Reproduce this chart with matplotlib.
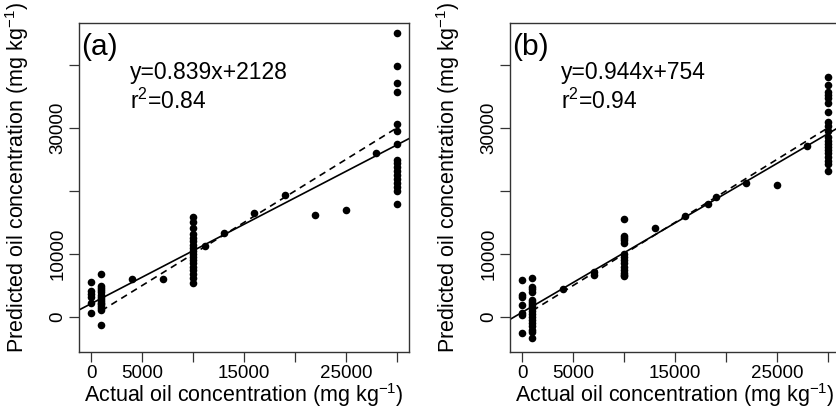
import numpy as np
import matplotlib
matplotlib.use("Agg")
import matplotlib.pyplot as plt

plt.rcParams['font.family'] = ['Liberation Sans', 'DejaVu Sans']
plt.rcParams['mathtext.fontset'] = 'custom'
plt.rcParams['mathtext.rm'] = 'Liberation Sans'
plt.rcParams['mathtext.it'] = 'Liberation Sans'

# ---- panel (a) data: actual vs predicted (mg/kg) ----
a_actual = ([0] * 6 + [1000] * 15 + [4000, 7000] + [10000] * 18
            + [11200, 13000, 16000, 19000, 22000, 25000, 28000] + [30000] * 17)
a_pred = ([5600, 4200, 3600, 3100, 2200, 600]
          + [6900, 5000, 4600, 4300, 3900, 3500, 3200, 2900, 2600, 2300, 2000, 1700, 1400, 1100, -1300]
          + [6100, 6100]
          + [15900, 15000, 14200, 13200, 12500, 12000, 11500, 11000, 10500, 10000,
             9500, 9000, 8500, 8000, 7400, 6800, 6200, 5400]
          + [11200, 13400, 16500, 19400, 16200, 17000, 26000]
          + [45000, 39900, 37200, 35700, 30700, 29500, 27500, 24900, 24400, 23800,
             23200, 22500, 21900, 21300, 20600, 20000, 18000])

# ---- panel (b) data ----
b_actual = ([0] * 7 + [1000] * 18 + [4000, 7000, 7000] + [10000] * 14
            + [13000, 16000, 18200, 19000, 22000, 25000, 28000] + [30000] * 20)
b_pred = ([5900, 3500, 3200, 1900, 600, 300, -2600]
          + [6200, 4800, 4400, 4000, 2700, 2400, 2100, 1800, 1400, 900, 500, 0,
             -500, -1000, -1500, -2000, -2400, -3400]
          + [4400, 6700, 7100]
          + [15500, 12900, 12500, 12200, 11700, 10000, 9600, 9100, 8500, 8000,
             7500, 7000, 6700, 6500]
          + [14200, 16000, 17900, 19100, 21200, 21000, 27200]
          + [38100, 36800, 35700, 35200, 34800, 33900, 32500, 31000, 30300, 29500,
             28600, 28000, 27400, 27000, 26500, 26000, 25400, 24800, 24200, 23200])

panels = [
    ("(a)", a_actual, a_pred, 0.839, 2128, "0.84"),
    ("(b)", b_actual, b_pred, 0.944, 754, "0.94"),
]

xticks = [0, 5000, 10000, 15000, 20000, 25000, 30000]
xticklabels = ['0', '5000', '', '15000', '', '25000', '']
yticks = [0, 10000, 20000, 30000, 40000]
yticklabels = ['0', '10000', '', '30000', '']

W, H = 837, 409
fig = plt.figure(figsize=(W / 100, H / 100), dpi=100)
lefts = [79, 510]
top, bottom, width = 23, 352, 330

for left, (tag, xs, ys, slope, icpt, r2) in zip(lefts, panels):
    ax = fig.add_axes([left / W, 1 - bottom / H, width / W, (bottom - top) / H])
    ax.scatter(xs, ys, s=30, color='black', zorder=3, linewidths=0)
    xl = np.array([-1200, 31200])
    ax.plot(xl, slope * xl + icpt, color='black', lw=1.2)
    ax.plot([1000, 30000], [1000, 30000], color='black', lw=1.2, ls=(0, (4, 3)))
    ax.set_xlim(-1200, 31200)
    ax.set_ylim(-5550, 46650)
    ax.set_xticks(xticks)
    ax.set_xticklabels(xticklabels, fontsize=13.5)
    ax.set_yticks(yticks)
    ax.set_yticklabels(yticklabels, fontsize=13.5, rotation=90, va='center')
    ax.tick_params(direction='out', length=7, width=0.9, color='#333333', pad=2)
    for sp in ax.spines.values():
        sp.set_color('#333333')
        sp.set_linewidth(1.0)
    ax.set_xlabel('Actual oil concentration (mg kg$^{-1}$)', fontsize=15.5, labelpad=0)
    ax.set_ylabel('Predicted oil concentration (mg kg$^{-1}$)', fontsize=15.5)
    ax.yaxis.set_label_coords(-0.145, 0.53)
    ax.text(2 / width, 1 - 24 / (bottom - top), tag, transform=ax.transAxes,
            fontsize=21.5, va='center', ha='left')
    ax.text(51 / width, 1 - 50 / (bottom - top), f"y={slope}x+{icpt}",
            transform=ax.transAxes, fontsize=16.5, va='center', ha='left')
    ax.text(51 / width, 1 - 78 / (bottom - top), f"r$^{{2}}$={r2}",
            transform=ax.transAxes, fontsize=16.5, va='center', ha='left')

fig.savefig('out.png', dpi=100)
